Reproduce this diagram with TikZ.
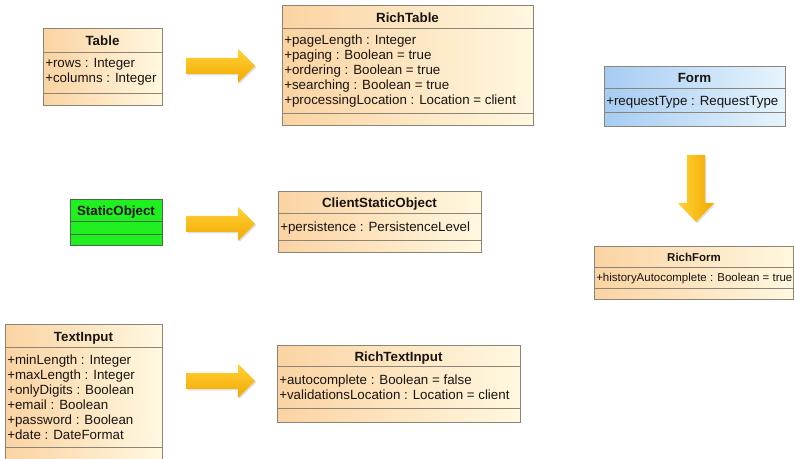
\documentclass[tikz,border=0pt]{standalone}
\usepackage{fontspec}
\setmainfont{Liberation Sans}
\usetikzlibrary{shadows}

\definecolor{peachL}{RGB}{251,211,162}
\definecolor{peachR}{RGB}{255,248,224}
\definecolor{skyL}{RGB}{166,204,243}
\definecolor{skyR}{RGB}{230,244,253}
\definecolor{limeF}{RGB}{32,240,32}
\definecolor{umlline}{RGB}{140,132,118}
\definecolor{limeline}{RGB}{70,105,70}
\definecolor{ink}{RGB}{25,20,15}
\definecolor{arrowT}{RGB}{255,210,55}
\definecolor{arrowB}{RGB}{242,168,0}

\tikzset{
  classframe/.style={line width=0.75pt},
  peach/.style={left color=peachL, right color=peachR},
  sky/.style={left color=skyL, right color=skyR},
  lime/.style={fill=limeF},
  umltitle/.style={font=\fontsize{10}{12}\selectfont\bfseries, inner sep=0pt, anchor=base, text=ink},
  smalltitle/.style={umltitle, font=\fontsize{8.6}{10}\selectfont\bfseries},
  attrs/.style={font=\fontsize{10}{11.25}\selectfont, align=left, inner sep=0pt, anchor=north west, text=ink},
  smallattrs/.style={attrs, font=\fontsize{8.6}{10}\selectfont},
  blockarrow/.style={top color=arrowT, bottom color=arrowB, draw=none,
    drop shadow={shadow xshift=1pt, shadow yshift=-1pt, opacity=0.25}},
  downarrow/.style={left color=arrowT, right color=arrowB, draw=none,
    drop shadow={shadow xshift=1pt, shadow yshift=-1pt, opacity=0.25}},
}

% class frame: #1 fill, #2 line colour, #3 left, #4 top, #5 right, #6 bottom,
% #7 rule under the name, #8 rule under the attributes
\newcommand\umlclass[8]{%
  \path[#1] (#3,#4) rectangle (#5,#6);
  \draw[classframe,draw=#2] (#3,#4) rectangle (#5,#6)
    (#3,#7) -- (#5,#7) (#3,#8) -- (#5,#8);
}

% horizontal block arrow: #1 name, #2 tail x, #3 centre y
\newcommand\rightblock[3]{%
  \path[blockarrow] (#2,#3-8) coordinate (#1) -- (#2+52,#3-8) -- (#2+52,#3-17)
    -- (#2+69,#3) -- (#2+52,#3+17) -- (#2+52,#3+8) -- (#2,#3+8) -- cycle;
}

\begin{document}
\begin{tikzpicture}[x=0.75pt,y=-0.75pt]
\useasboundingbox (0,0) rectangle (794,459);
\clip (0,0) rectangle (794,459);
\fill[white] (0,0) rectangle (794,459);

% Table
\umlclass{peach}{umlline}{43}{29}{162}{106}{53}{94}
\node[umltitle] (tableName) at (102.5,46) {Table};
\node[attrs] (tableAttrs) at (45,56.5) {\strut+rows : Integer\\+columns : Integer};

% RichTable
\umlclass{peach}{umlline}{282}{6}{533}{126}{29}{114}
\node[umltitle] (richTableName) at (407.5,22.5) {RichTable};
\node[attrs] (richTableAttrs) at (284,34) {\strut+pageLength : Integer\\+paging : Boolean = true\\+ordering : Boolean = true\\+searching : Boolean = true\\+processingLocation : Location = client};

% Form
\umlclass{sky}{umlline}{604}{67}{785}{127}{89}{113}
\node[umltitle] (formName) at (694.5,83) {Form};
\node[attrs] (formAttrs) at (606,94.5) {\strut+requestType : RequestType};

% RichForm
\umlclass{peach}{umlline}{594}{247}{793.5}{300}{268}{289}
\node[smalltitle] (richFormName) at (694,262) {RichForm};
\node[smallattrs] (richFormAttrs) at (596,272.2) {\strut+historyAutocomplete : Boolean = true};

% StaticObject
\umlclass{lime}{limeline}{70}{200}{162}{246}{222}{235}
\node[umltitle] (staticName) at (116,216) {StaticObject};

% ClientStaticObject
\umlclass{peach}{umlline}{278}{192}{481}{253}{214}{241}
\node[umltitle] (clientStaticName) at (379.5,208) {ClientStaticObject};
\node[attrs] (clientStaticAttrs) at (280,220.5) {\strut+persistence : PersistenceLevel};

% TextInput
\umlclass{peach}{umlline}{5}{325}{162}{470}{348}{448}
\node[umltitle] (textInputName) at (83.5,341.5) {TextInput};
\node[attrs] (textInputAttrs) at (7,353.5) {\strut+minLength : Integer\\+maxLength : Integer\\+onlyDigits : Boolean\\+email : Boolean\\+password : Boolean\\+date : DateFormat};

% RichTextInput
\umlclass{peach}{umlline}{277}{346}{520}{423}{367}{409}
\node[umltitle] (richTextInputName) at (398.5,362) {RichTextInput};
\node[attrs] (richTextInputAttrs) at (279,373.5) {\strut+autocomplete : Boolean = false\\+validationsLocation : Location = client};

% block arrows towards the rich variants
\rightblock{tableArrow}{186}{66}
\rightblock{staticArrow}{186}{224}
\rightblock{textArrow}{186}{381}
\path[downarrow] (687,155) coordinate (formArrow) -- (705,155) -- (705,203) -- (714,203)
  -- (696,222) -- (678,203) -- (687,203) -- cycle;
\end{tikzpicture}
\end{document}
